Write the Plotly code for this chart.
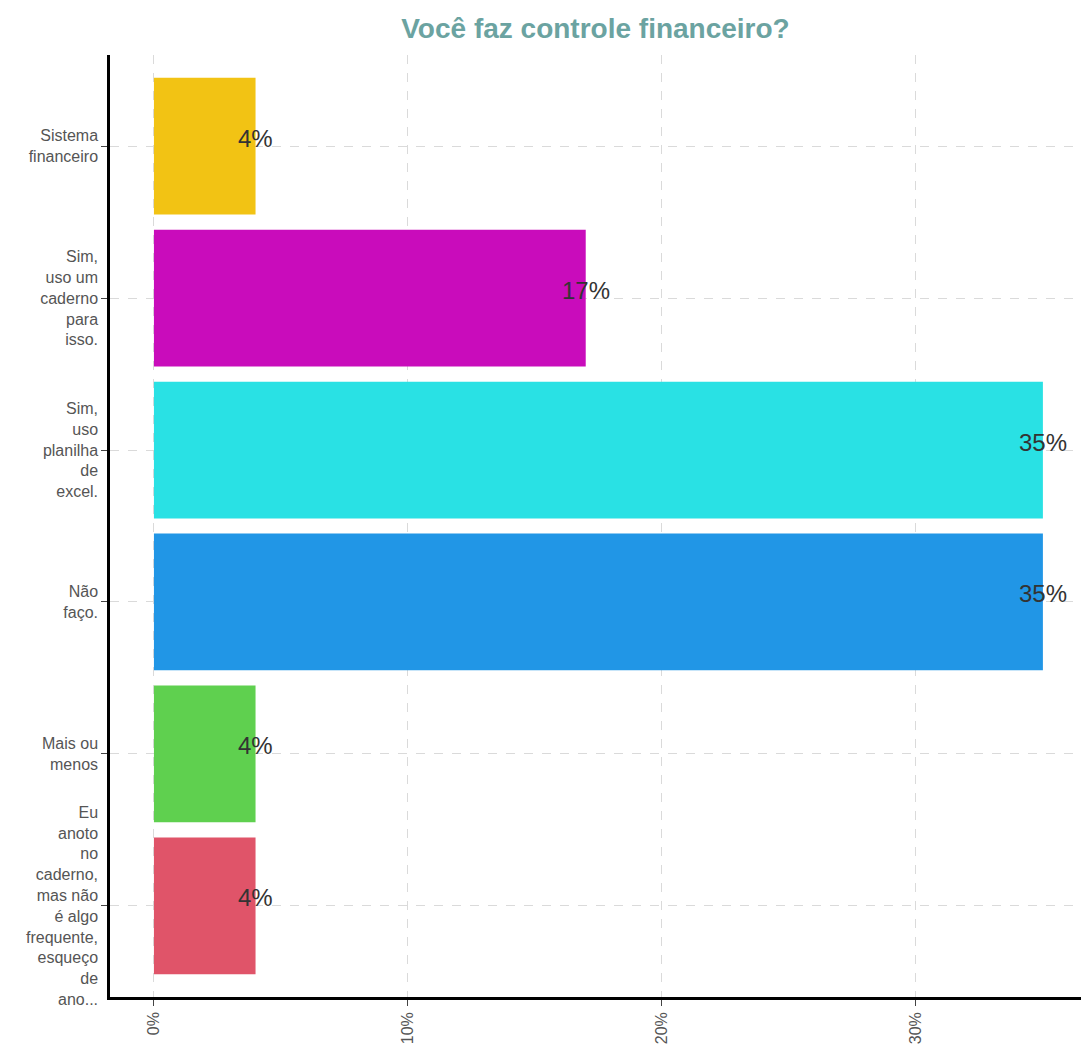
import plotly.graph_objects as go

# Survey answers, top to bottom
categories = [
    "Sistema<br>financeiro",
    "Sim,<br>uso um<br>caderno<br>para<br>isso.",
    "Sim,<br>uso<br>planilha<br>de<br>excel.",
    "Não<br>faço.",
    "Mais ou<br>menos",
    "Eu<br>anoto<br>no<br>caderno,<br>mas não<br>é algo<br>frequente,<br>esqueço<br>de<br>ano...",
]
shares = [0.04, 0.17, 0.35, 0.35, 0.04, 0.04]
bar_colors = ["#f2c314", "#c90cbb", "#29e1e4", "#2196e6", "#5fd04f", "#e05469"]
x_ticks = [0, 0.1, 0.2, 0.3]
x_tick_labels = ["0%", "10%", "20%", "30%"]

FONT = "Liberation Sans, Arial, sans-serif"

fig = go.Figure()
fig.add_trace(go.Bar(
    y=categories, x=shares, orientation="h",
    marker=dict(color=bar_colors, line=dict(width=0)),
    width=0.9, hoverinfo="x+y",
))

# Percent labels centred on the end of each bar
for cat, val in zip(categories, shares):
    fig.add_annotation(
        x=val, y=cat, text=f"{round(val * 100)}%", showarrow=False,
        xanchor="center", yanchor="middle", yshift=8,
        font=dict(family=FONT, size=24, color="#333333"),
    )

fig.update_layout(
    width=1081, height=1051,
    margin=dict(l=110, r=0, t=55, b=54),
    paper_bgcolor="white", plot_bgcolor="white",
    showlegend=False,
    font=dict(family=FONT),
    title=dict(
        text="<b>Você faz controle financeiro?</b>",
        x=(110 + 1081) / 2 / 1081, xanchor="center", y=1 - 28 / 1051, yanchor="middle",
        font=dict(size=28, color="#6ba3a1"),
    ),
)

fig.update_xaxes(
    range=[-0.0173, 0.365],
    tickvals=x_ticks, ticktext=x_tick_labels, tickangle=-90,
    tickfont=dict(size=16, color="#555555"),
    ticks="outside", ticklen=6, tickwidth=1, tickcolor="#444444",
    showline=True, linecolor="black", linewidth=2.5,
    showgrid=True, gridcolor="#dadada", griddash="dash", gridwidth=1,
    zeroline=False, fixedrange=True,
)
fig.update_yaxes(
    categoryorder="array", categoryarray=categories,
    autorange=False, range=[5.6, -0.6],
    tickfont=dict(size=16, color="#555555"),
    ticks="outside", ticklen=6, tickwidth=1, tickcolor="#444444",
    showline=True, linecolor="black", linewidth=2.5,
    showgrid=True, gridcolor="#dadada", griddash="dash", gridwidth=1,
    zeroline=False, fixedrange=True,
)

fig.write_html("out.html")
